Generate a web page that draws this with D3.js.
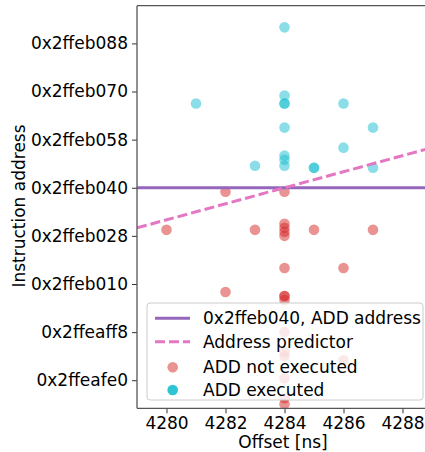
<!DOCTYPE html>
<html>
<head>
<meta charset="utf-8">
<script src="https://cdn.jsdelivr.net/npm/d3@7"></script>
<style>
  body { margin: 0; background: #fff; }
  svg { font-family: "DejaVu Sans", sans-serif; }
</style>
</head>
<body>
<div id="chart"></div>
<script>
// values
const addrLine = "0x2ffeb040";
const xTicks = [4280, 4282, 4284, 4286, 4288];
const yTicks = ["0x2ffeafe0", "0x2ffeaff8", "0x2ffeb010", "0x2ffeb028",
                "0x2ffeb040", "0x2ffeb058", "0x2ffeb070", "0x2ffeb088"];

const predictorOffset = [4279, 4289];
const predictorAddr = ["0x2ffeb02c", "0x2ffeb054"];

const notExecOffset = [4280, 4282, 4282, 4283,
    4284, 4284, 4284, 4284, 4284, 4284, 4284, 4284, 4284, 4284, 4284, 4284, 4284, 4284, 4284,
    4285, 4286, 4286, 4287];
const notExecAddr = ["0x2ffeb02b", "0x2ffeb03e", "0x2ffeb00c", "0x2ffeb02b",
    "0x2ffeb03e", "0x2ffeb02e", "0x2ffeb02c", "0x2ffeb02a", "0x2ffeb028", "0x2ffeb018",
    "0x2ffeb00a", "0x2ffeb00a", "0x2ffeb008", "0x2ffeaff8", "0x2ffeafee", "0x2ffeafec",
    "0x2ffeafe1", "0x2ffeafd7", "0x2ffeafd4",
    "0x2ffeb02b", "0x2ffeb018", "0x2ffeafea", "0x2ffeb02b"];

const execOffset = [4281, 4283,
    4284, 4284, 4284, 4284, 4284, 4284, 4284, 4284,
    4285, 4285, 4286, 4286, 4287, 4287];
const execAddr = ["0x2ffeb06a", "0x2ffeb04b",
    "0x2ffeb090", "0x2ffeb06e", "0x2ffeb06a", "0x2ffeb06a", "0x2ffeb05e", "0x2ffeb050", "0x2ffeb04e", "0x2ffeb04b",
    "0x2ffeb04a", "0x2ffeb04a", "0x2ffeb06a", "0x2ffeb054", "0x2ffeb05e", "0x2ffeb04a"];

const legendLabels = ["0x2ffeb040, ADD address", "Address predictor", "ADD not executed", "ADD executed"];

const red = "#d62728", cyan = "#17becf", purple = "#9467bd", pink = "#e377c2";

const w = 425, h = 452;
const plotLeft = 137, plotTop = 5.7, plotBottom = 408.3;
const fontSize = "17px";
const hex = s => parseInt(s, 16);
const base = hex(addrLine);

const svg = d3.select("#chart").append("svg")
    .attr("width", w)
    .attr("height", h);

const xScale = d3.scaleLinear()
    .domain([4279, 4289])
    .range([plotLeft, plotLeft + 295]);

const yScale = d3.scaleLinear()
    .domain([base - 110, base + 90.8])
    .range([plotBottom, plotTop]);

// clip to plot area
svg.append("clipPath").attr("id", "clip")
    .append("rect")
    .attr("x", plotLeft).attr("y", plotTop)
    .attr("width", w - plotLeft).attr("height", plotBottom - plotTop);

const plot = svg.append("g").attr("clip-path", "url(#clip)");

function scatter(offs, addrs, color) {
    plot.selectAll(null)
        .data(offs.map((o, i) => ({x: o, y: hex(addrs[i])})))
        .enter().append("circle")
        .attr("cx", d => xScale(d.x))
        .attr("cy", d => yScale(d.y))
        .attr("r", 5.3)
        .attr("fill", color)
        .attr("fill-opacity", 0.5);
}
scatter(notExecOffset, notExecAddr, red);
scatter(execOffset, execAddr, cyan);

// horizontal ADD address line
plot.append("line")
    .attr("x1", plotLeft).attr("x2", w)
    .attr("y1", yScale(base)).attr("y2", yScale(base))
    .attr("stroke", purple)
    .attr("stroke-width", 3);

// predictor
const pLine = d3.line()
    .x(d => xScale(d[0]))
    .y(d => yScale(hex(d[1])));
plot.append("path")
    .datum(predictorOffset.map((o, i) => [o, predictorAddr[i]]))
    .attr("d", pLine)
    .attr("fill", "none")
    .attr("stroke", pink)
    .attr("stroke-width", 3)
    .attr("stroke-dasharray", "10,4");

// axes
const xAxis = d3.axisBottom(xScale)
    .tickValues(xTicks)
    .tickFormat(d3.format("d"))
    .tickSize(5)
    .tickPadding(4);
const gx = svg.append("g")
    .attr("transform", "translate(0," + plotBottom + ")")
    .call(xAxis);
gx.select(".domain").remove();

const yAxis = d3.axisLeft(yScale)
    .tickValues(yTicks.map(hex))
    .tickFormat(d => "0x" + d.toString(16))
    .tickSize(5)
    .tickPadding(4);
const gy = svg.append("g")
    .attr("transform", "translate(" + plotLeft + ",0)")
    .call(yAxis);
gy.select(".domain").remove();

svg.selectAll(".tick text")
    .attr("fill", "#000")
    .style("font-size", fontSize)
    .style("font-family", "DejaVu Sans");
svg.selectAll(".tick line").attr("stroke", "#333");

// spines
svg.append("line")
    .attr("x1", plotLeft).attr("x2", plotLeft)
    .attr("y1", plotTop).attr("y2", plotBottom)
    .attr("stroke", "#555").attr("stroke-width", 1.3);
svg.append("line")
    .attr("x1", plotLeft).attr("x2", w)
    .attr("y1", plotBottom).attr("y2", plotBottom)
    .attr("stroke", "#555").attr("stroke-width", 1.3);
svg.append("line")
    .attr("x1", plotLeft).attr("x2", w)
    .attr("y1", plotTop).attr("y2", plotTop)
    .attr("stroke", "#555").attr("stroke-width", 1.3);

// axis labels
svg.append("text")
    .attr("x", 283)
    .attr("y", 448)
    .attr("text-anchor", "middle")
    .style("font-size", fontSize)
    .text("Offset [ns]");

svg.append("text")
    .attr("transform", "translate(25,206) rotate(-90)")
    .attr("text-anchor", "middle")
    .style("font-size", fontSize)
    .text("Instruction address");

// legend
const leg = svg.append("g");
leg.append("rect")
    .attr("x", 147).attr("y", 303)
    .attr("width", 276).attr("height", 97)
    .attr("rx", 3)
    .attr("fill", "#fff").attr("fill-opacity", 0.8)
    .attr("stroke", "#ccc");

const rowY = [318.3, 341.7, 367.3, 390];
leg.append("line")
    .attr("x1", 155).attr("x2", 190)
    .attr("y1", rowY[0]).attr("y2", rowY[0])
    .attr("stroke", purple).attr("stroke-width", 3);
leg.append("line")
    .attr("x1", 155).attr("x2", 190)
    .attr("y1", rowY[1]).attr("y2", rowY[1])
    .attr("stroke", pink).attr("stroke-width", 3)
    .attr("stroke-dasharray", "10,4");
leg.append("circle")
    .attr("cx", 172.7).attr("cy", rowY[2]).attr("r", 5.3)
    .attr("fill", red).attr("fill-opacity", 0.5);
leg.append("circle")
    .attr("cx", 172.7).attr("cy", rowY[3]).attr("r", 5.3)
    .attr("fill", cyan).attr("fill-opacity", 0.9);

leg.selectAll("text.lab")
    .data(legendLabels)
    .enter().append("text")
    .attr("class", "lab")
    .attr("x", 203)
    .attr("y", (d, i) => rowY[i] + 6)
    .style("font-size", fontSize)
    .text(d => d);
</script>
</body>
</html>
